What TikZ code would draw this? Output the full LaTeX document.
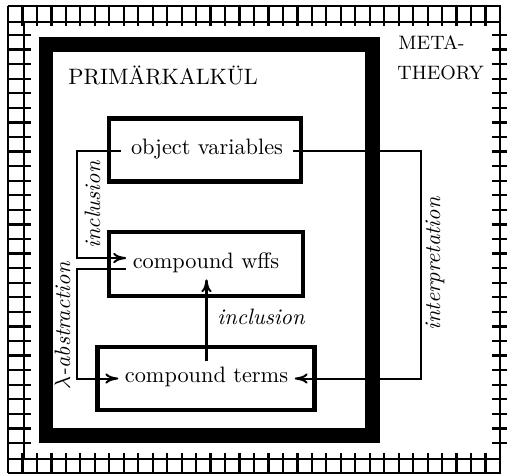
\documentclass[tikz,border=0pt]{standalone}
\usetikzlibrary{arrows.meta}
\begin{document}
\begin{tikzpicture}[x=0.4484pt,y=-0.4484pt,
  grid/.style={line width=1pt},
  frame/.style={line width=6.3pt},
  box/.style={draw,line width=1.8pt,inner sep=0pt},
  conn/.style={line width=0.9pt},
  arr/.style={conn,-{To[length=5.8pt,width=4.6pt]}},
  txt/.style={inner ysep=2.5pt,inner xsep=2.8pt,anchor=base},
  lbl/.style={font=\itshape,inner sep=0pt},
  meta/.style={inner sep=0pt,anchor=base west,font=\fontsize{8.7}{10}\selectfont}]
\useasboundingbox (0,0) rectangle (507,475);
% ruled border
\draw[grid] (8,6) -- (501,6);
\draw[grid] (8,22) -- (501,22);
\draw[grid] (8,459) -- (501,459);
\draw[grid] (8,473) -- (501,473);
\draw[grid] (8,6) -- (8,473);
\draw[grid] (24,22) -- (24,459);
\draw[grid] (500,22) -- (500,459);
\foreach \k in {0,...,34}{
  \draw[grid] ({8+14.47*\k},6) -- ({8+14.47*\k},26);
  \draw[grid] ({8+14.47*\k},453) -- ({8+14.47*\k},473);
}
\foreach \k in {0,...,28}{
  \draw[grid] (8,{35+14.57*\k}) -- (31,{35+14.57*\k});
  \draw[grid] (492,{35+14.57*\k}) -- (507,{35+14.57*\k});
}
% thick frame
\draw[frame] (46.3,44.5) rectangle (372.5,435.5);
% titles
\node[inner sep=0pt,anchor=base west] (prim) at (68,85) {PRIMÄRKALKÜL};
\node[meta] (meta) at (398,50) {META-};
\node[meta] (theory) at (397,80) {THEORY};
% boxes
\node[box,minimum width=86.1pt,minimum height=28.25pt] (ovb) at (205,150) {};
\node[box,minimum width=87pt,minimum height=28.5pt] (cwb) at (206,263.75) {};
\node[box,minimum width=97.3pt,minimum height=28.25pt] (ctb) at (206,378.5) {};
% texts
\node[txt,inner xsep=4.4pt] (ovt) at (207,155) {object variables};
\node[txt] (cwt) at (206,269) {compound wffs};
\node[txt] (ctt) at (206.5,383) {compound terms};
% bus coordinates
\coordinate (lbus) at (77,0);
\coordinate (rbus) at (421,0);
\coordinate (ovW) at ([yshift=1.57pt]ovt.base west);
\coordinate (ovE) at ([yshift=1.57pt]ovt.base east);
\coordinate (cwIn) at ([yshift=4.9pt]cwt.base west);
\coordinate (cwOut) at (cwt.base west);
\coordinate (ctIn) at ([yshift=2pt]ctt.base west);
\coordinate (ctE) at ([yshift=2pt]ctt.base east);
% connectors
\draw[arr] (ovW) -- (ovW -| lbus) |- (cwIn);
\draw[arr] (cwOut) -- (cwOut -| lbus) |- (ctIn);
\draw[arr] (ovE) -- (ovE -| rbus) |- (ctE);
\draw[arr] (ctt.north) -- (ctt.north |- cwt.south);
% labels
\node[lbl,rotate=90] (incl1) at (92.5,205) {inclusion};
\node[lbl,rotate=90] (lam) at (62.5,326) {$\lambda$-abstraction};
\node[lbl,anchor=base west] (incl2) at (217,324.5) {inclusion};
\node[lbl,rotate=90] (interp) at (435,264) {interpretation};
\end{tikzpicture}
\end{document}
